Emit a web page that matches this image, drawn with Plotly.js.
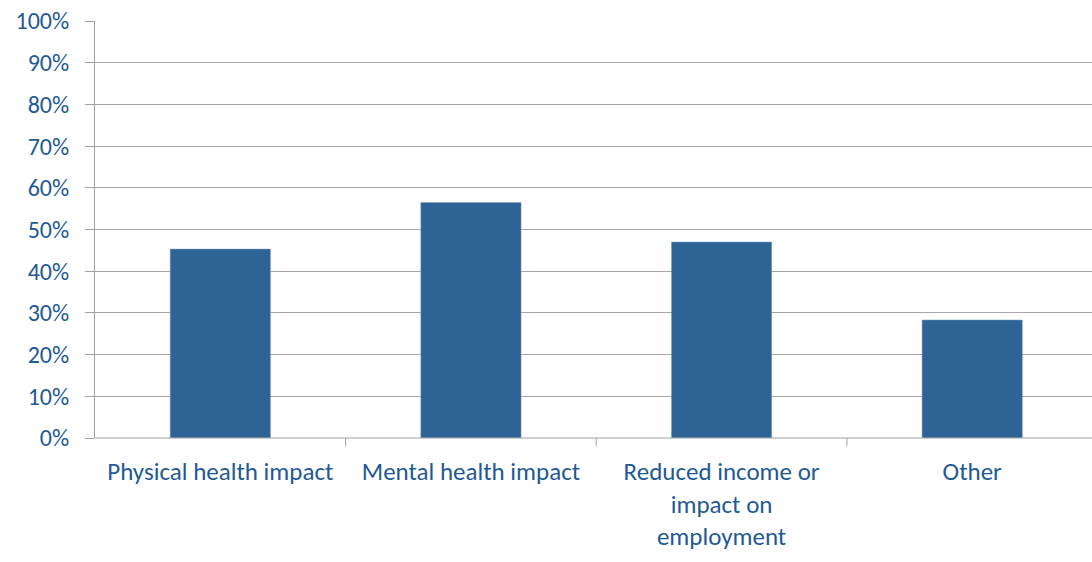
<!DOCTYPE html>
<html>
<head>
<meta charset="utf-8">
<script src="https://cdn.plot.ly/plotly-3.0.1.min.js"></script>
<style>html,body{margin:0;padding:0;background:#fff;overflow:hidden}</style>
</head>
<body>
<div id="chart" style="width:1092px;height:562px"></div>
<script>
const categories = ["Physical health impact", "Mental health impact", "Reduced income or<br>impact on<br>employment", "Other"];
const values = [0.453, 0.565, 0.47, 0.283];
const yTicks = [0, 0.1, 0.2, 0.3, 0.4, 0.5, 0.6, 0.7, 0.8, 0.9, 1.0];
const yTickLabels = ["0%", "10%", "20%", "30%", "40%", "50%", "60%", "70%", "80%", "90%", "100%"];

const labelColor = "#1f5a94";
const fontFam = "Carlito, Lato, 'Open Sans', sans-serif";

Plotly.newPlot("chart", [{
  type: "bar",
  x: [0, 1, 2, 3],
  y: values,
  width: 0.4,
  marker: {color: "#2e6396", line: {color: "#7f9fc4", width: 0.5}},
  hoverinfo: "skip"
}], {
  width: 1092, height: 562,
  margin: {l: 95, r: 0, t: 21, b: 124},
  paper_bgcolor: "#fff", plot_bgcolor: "#fff",
  showlegend: false,
  font: {family: fontFam, size: 24, color: labelColor},
  xaxis: {
    type: "linear",
    range: [-0.5, 3.478],
    tickmode: "array",
    tickvals: [0, 1, 2, 3],
    ticktext: categories,
    ticks: "",
    showgrid: false,
    zeroline: false,
    showline: false,
    tickfont: {family: fontFam, size: 25, color: labelColor},
    ticklabelstandoff: 16
  },
  yaxis: {
    range: [0, 1],
    tickmode: "array",
    tickvals: yTicks,
    ticktext: yTickLabels,
    ticks: "outside",
    ticklen: 9,
    tickcolor: "#a0a0a0",
    showgrid: true,
    gridcolor: "#a6a6a6",
    gridwidth: 1,
    zeroline: false,
    showline: true,
    linecolor: "#a0a0a0",
    linewidth: 1,
    tickfont: {family: fontFam, size: 24, color: labelColor},
    ticklabelstandoff: 11
  },
  shapes: [
    {type: "line", xref: "x", yref: "paper", x0: -0.5, x1: 3.5, y0: 0, y1: 0, line: {color: "#a0a0a0", width: 1}},
    {type: "line", xref: "x", yref: "paper", x0: 0.5, x1: 0.5, y0: 0, y1: -0.02, line: {color: "#a0a0a0", width: 1}},
    {type: "line", xref: "x", yref: "paper", x0: 1.5, x1: 1.5, y0: 0, y1: -0.02, line: {color: "#a0a0a0", width: 1}},
    {type: "line", xref: "x", yref: "paper", x0: 2.5, x1: 2.5, y0: 0, y1: -0.02, line: {color: "#a0a0a0", width: 1}}
  ]
}, {displayModeBar: false, staticPlot: true});
</script>
</body>
</html>
